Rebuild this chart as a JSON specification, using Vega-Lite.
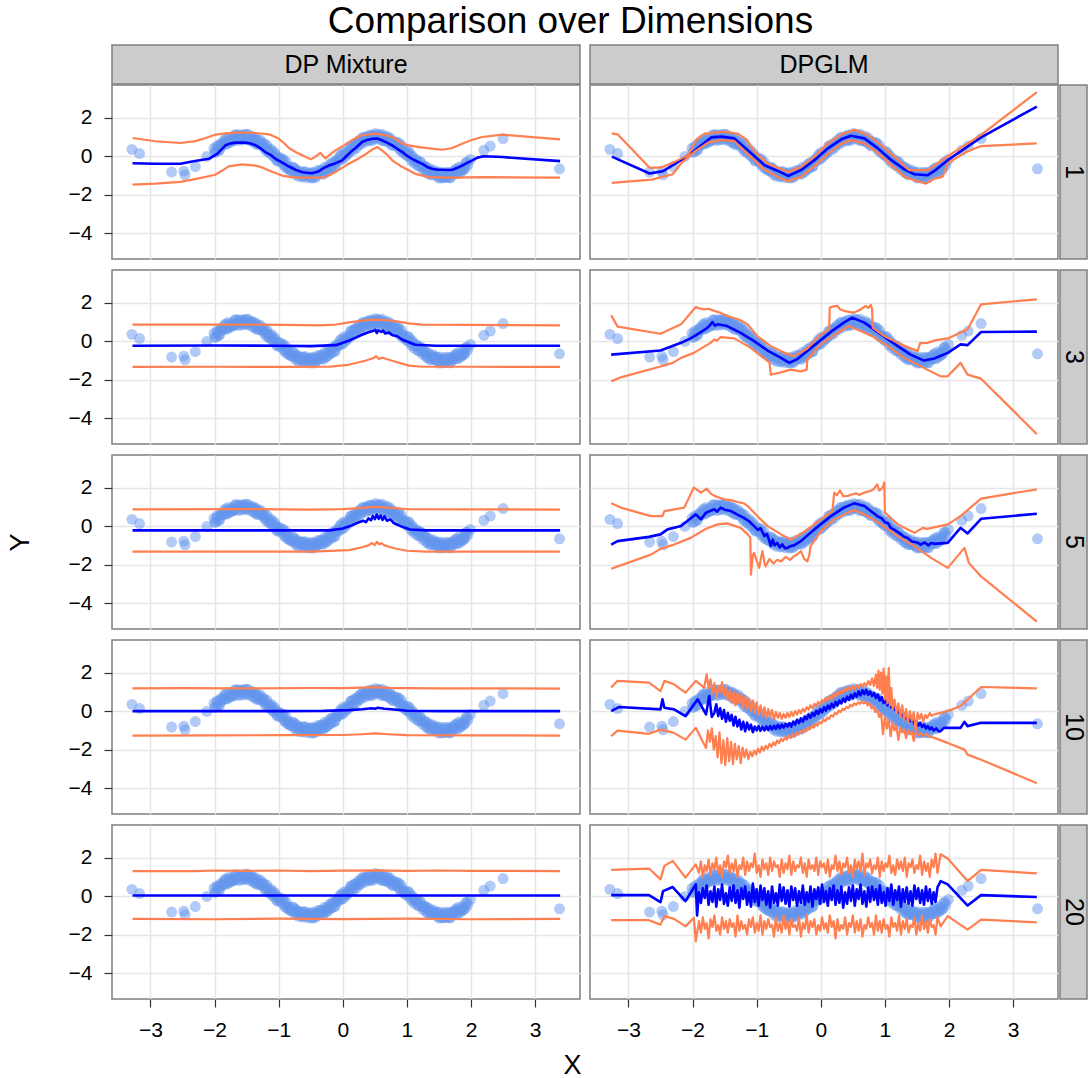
{
"$schema":"https://vega.github.io/schema/vega-lite/v6.json",
"background":"white",
"padding":{"left":5,"top":3,"right":0,"bottom":0},
"title":{"text":"Comparison over Dimensions","anchor":"middle","offset":3,"dx":24,"fontSize":37,"fontWeight":"normal","color":"#000000"},
"spacing":-2,
"vconcat":[
{"hconcat":[
{"width":468,"height":39,"data":{"values":[{"lab":"DP Mixture"}]},"view":{"fill":"#CCCCCC","stroke":"#7F7F7F","strokeWidth":1.5},"mark":{"type":"text","fontSize":25,"color":"#000000"},"encoding":{"text":{"field":"lab","type":"nominal"}}},
{"width":468,"height":39,"data":{"values":[{"lab":"DPGLM"}]},"view":{"fill":"#CCCCCC","stroke":"#7F7F7F","strokeWidth":1.5},"mark":{"type":"text","fontSize":25,"color":"#000000"},"encoding":{"text":{"field":"lab","type":"nominal"}}}
],"spacing":8},
{"vconcat":[
{"hconcat":[
{"width":468,"height":174,"resolve":{"axis":{"x":"independent","y":"independent"}},"layer":[
{"data":{"name":"pts"},"mark":{"type":"circle","size":120,"opacity":0.5,"color":"#6495ED"},"encoding":{"x":{"field":"x","type":"quantitative","scale":{"domain":[-3.6,3.7],"nice":false,"zero":false},"axis":{"values":[-3,-2,-1,0,1,2,3],"labels":false,"ticks":false,"title":null,"gridColor":"#E5E5E5","gridWidth":1.5}},"y":{"field":"y","type":"quantitative","scale":{"domain":[-5.34,3.69],"nice":false,"zero":false},"axis":{"values":[-4,-2,0,2],"title":null,"labelOverlap":false,"tickSize":8,"labelPadding":12,"gridColor":"#E5E5E5","gridWidth":1.5}}}},
{"data":{"name":"D1"},"transform":[{"filter":"isValid(datum.m)"}],"mark":{"type":"line","color":"#0000FF","strokeWidth":2.6,"strokeJoin":"round","clip":true},"encoding":{"x":{"field":"x","type":"quantitative","axis":{"orient":"top","values":[-3.5,-2.5,-1.5,-0.5,0.5,1.5,2.5,3.5],"labels":false,"ticks":false,"domain":false,"title":null,"gridColor":"#F3F3F3","gridWidth":1}},"y":{"field":"m","type":"quantitative","axis":{"orient":"right","values":[-5,-3,-1,1,3],"labels":false,"ticks":false,"domain":false,"title":null,"gridColor":"#F3F3F3","gridWidth":1}}}},
{"data":{"name":"D1"},"transform":[{"filter":"isValid(datum.lo)"}],"mark":{"type":"line","color":"#FF7F50","strokeWidth":2.2,"strokeJoin":"round","clip":true},"encoding":{"x":{"field":"x","type":"quantitative","axis":null},"y":{"field":"lo","type":"quantitative","axis":null}}},
{"data":{"name":"D1"},"transform":[{"filter":"isValid(datum.hi)"}],"mark":{"type":"line","color":"#FF7F50","strokeWidth":2.2,"strokeJoin":"round","clip":true},"encoding":{"x":{"field":"x","type":"quantitative","axis":null},"y":{"field":"hi","type":"quantitative","axis":null}}}
]},
{"hconcat":[
{"width":468,"height":174,"resolve":{"axis":{"x":"independent","y":"independent"}},"layer":[
{"data":{"name":"pts"},"mark":{"type":"circle","size":120,"opacity":0.5,"color":"#6495ED"},"encoding":{"x":{"field":"x","type":"quantitative","scale":{"domain":[-3.6,3.7],"nice":false,"zero":false},"axis":{"values":[-3,-2,-1,0,1,2,3],"labels":false,"ticks":false,"title":null,"gridColor":"#E5E5E5","gridWidth":1.5}},"y":{"field":"y","type":"quantitative","scale":{"domain":[-5.34,3.69],"nice":false,"zero":false},"axis":{"values":[-4,-2,0,2],"labels":false,"ticks":false,"title":null,"gridColor":"#E5E5E5","gridWidth":1.5}}}},
{"data":{"name":"G1"},"transform":[{"filter":"isValid(datum.m)"}],"mark":{"type":"line","color":"#0000FF","strokeWidth":2.6,"strokeJoin":"round","clip":true},"encoding":{"x":{"field":"x","type":"quantitative","axis":{"orient":"top","values":[-3.5,-2.5,-1.5,-0.5,0.5,1.5,2.5,3.5],"labels":false,"ticks":false,"domain":false,"title":null,"gridColor":"#F3F3F3","gridWidth":1}},"y":{"field":"m","type":"quantitative","axis":{"orient":"right","values":[-5,-3,-1,1,3],"labels":false,"ticks":false,"domain":false,"title":null,"gridColor":"#F3F3F3","gridWidth":1}}}},
{"data":{"name":"G1"},"transform":[{"filter":"isValid(datum.lo)"}],"mark":{"type":"line","color":"#FF7F50","strokeWidth":2.2,"strokeJoin":"round","clip":true},"encoding":{"x":{"field":"x","type":"quantitative","axis":null},"y":{"field":"lo","type":"quantitative","axis":null}}},
{"data":{"name":"G1"},"transform":[{"filter":"isValid(datum.hi)"}],"mark":{"type":"line","color":"#FF7F50","strokeWidth":2.2,"strokeJoin":"round","clip":true},"encoding":{"x":{"field":"x","type":"quantitative","axis":null},"y":{"field":"hi","type":"quantitative","axis":null}}}
]},
{"width":27,"height":174,"data":{"values":[{"lab":"1"}]},"view":{"fill":"#CCCCCC","stroke":"#7F7F7F","strokeWidth":1.5},"mark":{"type":"text","fontSize":25,"angle":90,"color":"#000000"},"encoding":{"text":{"field":"lab","type":"nominal"}}}
],"spacing":0}
],"spacing":8},
{"hconcat":[
{"width":468,"height":174,"resolve":{"axis":{"x":"independent","y":"independent"}},"layer":[
{"data":{"name":"pts"},"mark":{"type":"circle","size":120,"opacity":0.5,"color":"#6495ED"},"encoding":{"x":{"field":"x","type":"quantitative","scale":{"domain":[-3.6,3.7],"nice":false,"zero":false},"axis":{"values":[-3,-2,-1,0,1,2,3],"labels":false,"ticks":false,"title":null,"gridColor":"#E5E5E5","gridWidth":1.5}},"y":{"field":"y","type":"quantitative","scale":{"domain":[-5.34,3.69],"nice":false,"zero":false},"axis":{"values":[-4,-2,0,2],"title":null,"labelOverlap":false,"tickSize":8,"labelPadding":12,"gridColor":"#E5E5E5","gridWidth":1.5}}}},
{"data":{"name":"D3"},"transform":[{"filter":"isValid(datum.m)"}],"mark":{"type":"line","color":"#0000FF","strokeWidth":2.6,"strokeJoin":"round","clip":true},"encoding":{"x":{"field":"x","type":"quantitative","axis":{"orient":"top","values":[-3.5,-2.5,-1.5,-0.5,0.5,1.5,2.5,3.5],"labels":false,"ticks":false,"domain":false,"title":null,"gridColor":"#F3F3F3","gridWidth":1}},"y":{"field":"m","type":"quantitative","axis":{"orient":"right","values":[-5,-3,-1,1,3],"labels":false,"ticks":false,"domain":false,"title":null,"gridColor":"#F3F3F3","gridWidth":1}}}},
{"data":{"name":"D3"},"transform":[{"filter":"isValid(datum.lo)"}],"mark":{"type":"line","color":"#FF7F50","strokeWidth":2.2,"strokeJoin":"round","clip":true},"encoding":{"x":{"field":"x","type":"quantitative","axis":null},"y":{"field":"lo","type":"quantitative","axis":null}}},
{"data":{"name":"D3"},"transform":[{"filter":"isValid(datum.hi)"}],"mark":{"type":"line","color":"#FF7F50","strokeWidth":2.2,"strokeJoin":"round","clip":true},"encoding":{"x":{"field":"x","type":"quantitative","axis":null},"y":{"field":"hi","type":"quantitative","axis":null}}}
]},
{"hconcat":[
{"width":468,"height":174,"resolve":{"axis":{"x":"independent","y":"independent"}},"layer":[
{"data":{"name":"pts"},"mark":{"type":"circle","size":120,"opacity":0.5,"color":"#6495ED"},"encoding":{"x":{"field":"x","type":"quantitative","scale":{"domain":[-3.6,3.7],"nice":false,"zero":false},"axis":{"values":[-3,-2,-1,0,1,2,3],"labels":false,"ticks":false,"title":null,"gridColor":"#E5E5E5","gridWidth":1.5}},"y":{"field":"y","type":"quantitative","scale":{"domain":[-5.34,3.69],"nice":false,"zero":false},"axis":{"values":[-4,-2,0,2],"labels":false,"ticks":false,"title":null,"gridColor":"#E5E5E5","gridWidth":1.5}}}},
{"data":{"name":"G3"},"transform":[{"filter":"isValid(datum.m)"}],"mark":{"type":"line","color":"#0000FF","strokeWidth":2.6,"strokeJoin":"round","clip":true},"encoding":{"x":{"field":"x","type":"quantitative","axis":{"orient":"top","values":[-3.5,-2.5,-1.5,-0.5,0.5,1.5,2.5,3.5],"labels":false,"ticks":false,"domain":false,"title":null,"gridColor":"#F3F3F3","gridWidth":1}},"y":{"field":"m","type":"quantitative","axis":{"orient":"right","values":[-5,-3,-1,1,3],"labels":false,"ticks":false,"domain":false,"title":null,"gridColor":"#F3F3F3","gridWidth":1}}}},
{"data":{"name":"G3"},"transform":[{"filter":"isValid(datum.lo)"}],"mark":{"type":"line","color":"#FF7F50","strokeWidth":2.2,"strokeJoin":"round","clip":true},"encoding":{"x":{"field":"x","type":"quantitative","axis":null},"y":{"field":"lo","type":"quantitative","axis":null}}},
{"data":{"name":"G3"},"transform":[{"filter":"isValid(datum.hi)"}],"mark":{"type":"line","color":"#FF7F50","strokeWidth":2.2,"strokeJoin":"round","clip":true},"encoding":{"x":{"field":"x","type":"quantitative","axis":null},"y":{"field":"hi","type":"quantitative","axis":null}}}
]},
{"width":27,"height":174,"data":{"values":[{"lab":"3"}]},"view":{"fill":"#CCCCCC","stroke":"#7F7F7F","strokeWidth":1.5},"mark":{"type":"text","fontSize":25,"angle":90,"color":"#000000"},"encoding":{"text":{"field":"lab","type":"nominal"}}}
],"spacing":0}
],"spacing":8},
{"hconcat":[
{"width":468,"height":174,"resolve":{"axis":{"x":"independent","y":"independent"}},"layer":[
{"data":{"name":"pts"},"mark":{"type":"circle","size":120,"opacity":0.5,"color":"#6495ED"},"encoding":{"x":{"field":"x","type":"quantitative","scale":{"domain":[-3.6,3.7],"nice":false,"zero":false},"axis":{"values":[-3,-2,-1,0,1,2,3],"labels":false,"ticks":false,"title":null,"gridColor":"#E5E5E5","gridWidth":1.5}},"y":{"field":"y","type":"quantitative","scale":{"domain":[-5.34,3.69],"nice":false,"zero":false},"axis":{"values":[-4,-2,0,2],"title":"Y","titlePadding":34,"labelOverlap":false,"tickSize":8,"labelPadding":12,"gridColor":"#E5E5E5","gridWidth":1.5}}}},
{"data":{"name":"D5"},"transform":[{"filter":"isValid(datum.m)"}],"mark":{"type":"line","color":"#0000FF","strokeWidth":2.6,"strokeJoin":"round","clip":true},"encoding":{"x":{"field":"x","type":"quantitative","axis":{"orient":"top","values":[-3.5,-2.5,-1.5,-0.5,0.5,1.5,2.5,3.5],"labels":false,"ticks":false,"domain":false,"title":null,"gridColor":"#F3F3F3","gridWidth":1}},"y":{"field":"m","type":"quantitative","axis":{"orient":"right","values":[-5,-3,-1,1,3],"labels":false,"ticks":false,"domain":false,"title":null,"gridColor":"#F3F3F3","gridWidth":1}}}},
{"data":{"name":"D5"},"transform":[{"filter":"isValid(datum.lo)"}],"mark":{"type":"line","color":"#FF7F50","strokeWidth":2.2,"strokeJoin":"round","clip":true},"encoding":{"x":{"field":"x","type":"quantitative","axis":null},"y":{"field":"lo","type":"quantitative","axis":null}}},
{"data":{"name":"D5"},"transform":[{"filter":"isValid(datum.hi)"}],"mark":{"type":"line","color":"#FF7F50","strokeWidth":2.2,"strokeJoin":"round","clip":true},"encoding":{"x":{"field":"x","type":"quantitative","axis":null},"y":{"field":"hi","type":"quantitative","axis":null}}}
]},
{"hconcat":[
{"width":468,"height":174,"resolve":{"axis":{"x":"independent","y":"independent"}},"layer":[
{"data":{"name":"pts"},"mark":{"type":"circle","size":120,"opacity":0.5,"color":"#6495ED"},"encoding":{"x":{"field":"x","type":"quantitative","scale":{"domain":[-3.6,3.7],"nice":false,"zero":false},"axis":{"values":[-3,-2,-1,0,1,2,3],"labels":false,"ticks":false,"title":null,"gridColor":"#E5E5E5","gridWidth":1.5}},"y":{"field":"y","type":"quantitative","scale":{"domain":[-5.34,3.69],"nice":false,"zero":false},"axis":{"values":[-4,-2,0,2],"labels":false,"ticks":false,"title":null,"gridColor":"#E5E5E5","gridWidth":1.5}}}},
{"data":{"name":"G5"},"transform":[{"filter":"isValid(datum.m)"}],"mark":{"type":"line","color":"#0000FF","strokeWidth":2.6,"strokeJoin":"round","clip":true},"encoding":{"x":{"field":"x","type":"quantitative","axis":{"orient":"top","values":[-3.5,-2.5,-1.5,-0.5,0.5,1.5,2.5,3.5],"labels":false,"ticks":false,"domain":false,"title":null,"gridColor":"#F3F3F3","gridWidth":1}},"y":{"field":"m","type":"quantitative","axis":{"orient":"right","values":[-5,-3,-1,1,3],"labels":false,"ticks":false,"domain":false,"title":null,"gridColor":"#F3F3F3","gridWidth":1}}}},
{"data":{"name":"G5"},"transform":[{"filter":"isValid(datum.lo)"}],"mark":{"type":"line","color":"#FF7F50","strokeWidth":2.2,"strokeJoin":"round","clip":true},"encoding":{"x":{"field":"x","type":"quantitative","axis":null},"y":{"field":"lo","type":"quantitative","axis":null}}},
{"data":{"name":"G5"},"transform":[{"filter":"isValid(datum.hi)"}],"mark":{"type":"line","color":"#FF7F50","strokeWidth":2.2,"strokeJoin":"round","clip":true},"encoding":{"x":{"field":"x","type":"quantitative","axis":null},"y":{"field":"hi","type":"quantitative","axis":null}}}
]},
{"width":27,"height":174,"data":{"values":[{"lab":"5"}]},"view":{"fill":"#CCCCCC","stroke":"#7F7F7F","strokeWidth":1.5},"mark":{"type":"text","fontSize":25,"angle":90,"color":"#000000"},"encoding":{"text":{"field":"lab","type":"nominal"}}}
],"spacing":0}
],"spacing":8},
{"hconcat":[
{"width":468,"height":174,"resolve":{"axis":{"x":"independent","y":"independent"}},"layer":[
{"data":{"name":"pts"},"mark":{"type":"circle","size":120,"opacity":0.5,"color":"#6495ED"},"encoding":{"x":{"field":"x","type":"quantitative","scale":{"domain":[-3.6,3.7],"nice":false,"zero":false},"axis":{"values":[-3,-2,-1,0,1,2,3],"labels":false,"ticks":false,"title":null,"gridColor":"#E5E5E5","gridWidth":1.5}},"y":{"field":"y","type":"quantitative","scale":{"domain":[-5.34,3.69],"nice":false,"zero":false},"axis":{"values":[-4,-2,0,2],"title":null,"labelOverlap":false,"tickSize":8,"labelPadding":12,"gridColor":"#E5E5E5","gridWidth":1.5}}}},
{"data":{"name":"D10"},"transform":[{"filter":"isValid(datum.m)"}],"mark":{"type":"line","color":"#0000FF","strokeWidth":2.6,"strokeJoin":"round","clip":true},"encoding":{"x":{"field":"x","type":"quantitative","axis":{"orient":"top","values":[-3.5,-2.5,-1.5,-0.5,0.5,1.5,2.5,3.5],"labels":false,"ticks":false,"domain":false,"title":null,"gridColor":"#F3F3F3","gridWidth":1}},"y":{"field":"m","type":"quantitative","axis":{"orient":"right","values":[-5,-3,-1,1,3],"labels":false,"ticks":false,"domain":false,"title":null,"gridColor":"#F3F3F3","gridWidth":1}}}},
{"data":{"name":"D10"},"transform":[{"filter":"isValid(datum.lo)"}],"mark":{"type":"line","color":"#FF7F50","strokeWidth":2.2,"strokeJoin":"round","clip":true},"encoding":{"x":{"field":"x","type":"quantitative","axis":null},"y":{"field":"lo","type":"quantitative","axis":null}}},
{"data":{"name":"D10"},"transform":[{"filter":"isValid(datum.hi)"}],"mark":{"type":"line","color":"#FF7F50","strokeWidth":2.2,"strokeJoin":"round","clip":true},"encoding":{"x":{"field":"x","type":"quantitative","axis":null},"y":{"field":"hi","type":"quantitative","axis":null}}}
]},
{"hconcat":[
{"width":468,"height":174,"resolve":{"axis":{"x":"independent","y":"independent"}},"layer":[
{"data":{"name":"pts"},"mark":{"type":"circle","size":120,"opacity":0.5,"color":"#6495ED"},"encoding":{"x":{"field":"x","type":"quantitative","scale":{"domain":[-3.6,3.7],"nice":false,"zero":false},"axis":{"values":[-3,-2,-1,0,1,2,3],"labels":false,"ticks":false,"title":null,"gridColor":"#E5E5E5","gridWidth":1.5}},"y":{"field":"y","type":"quantitative","scale":{"domain":[-5.34,3.69],"nice":false,"zero":false},"axis":{"values":[-4,-2,0,2],"labels":false,"ticks":false,"title":null,"gridColor":"#E5E5E5","gridWidth":1.5}}}},
{"data":{"name":"G10"},"transform":[{"filter":"isValid(datum.m)"}],"mark":{"type":"line","color":"#0000FF","strokeWidth":2.6,"strokeJoin":"round","clip":true},"encoding":{"x":{"field":"x","type":"quantitative","axis":{"orient":"top","values":[-3.5,-2.5,-1.5,-0.5,0.5,1.5,2.5,3.5],"labels":false,"ticks":false,"domain":false,"title":null,"gridColor":"#F3F3F3","gridWidth":1}},"y":{"field":"m","type":"quantitative","axis":{"orient":"right","values":[-5,-3,-1,1,3],"labels":false,"ticks":false,"domain":false,"title":null,"gridColor":"#F3F3F3","gridWidth":1}}}},
{"data":{"name":"G10"},"transform":[{"filter":"isValid(datum.lo)"}],"mark":{"type":"line","color":"#FF7F50","strokeWidth":2.2,"strokeJoin":"round","clip":true},"encoding":{"x":{"field":"x","type":"quantitative","axis":null},"y":{"field":"lo","type":"quantitative","axis":null}}},
{"data":{"name":"G10"},"transform":[{"filter":"isValid(datum.hi)"}],"mark":{"type":"line","color":"#FF7F50","strokeWidth":2.2,"strokeJoin":"round","clip":true},"encoding":{"x":{"field":"x","type":"quantitative","axis":null},"y":{"field":"hi","type":"quantitative","axis":null}}}
]},
{"width":27,"height":174,"data":{"values":[{"lab":"10"}]},"view":{"fill":"#CCCCCC","stroke":"#7F7F7F","strokeWidth":1.5},"mark":{"type":"text","fontSize":25,"angle":90,"color":"#000000"},"encoding":{"text":{"field":"lab","type":"nominal"}}}
],"spacing":0}
],"spacing":8},
{"hconcat":[
{"width":468,"height":174,"resolve":{"axis":{"x":"independent","y":"independent"}},"layer":[
{"data":{"name":"pts"},"mark":{"type":"circle","size":120,"opacity":0.5,"color":"#6495ED"},"encoding":{"x":{"field":"x","type":"quantitative","scale":{"domain":[-3.6,3.7],"nice":false,"zero":false},"axis":{"values":[-3,-2,-1,0,1,2,3],"title":null,"labelFlush":false,"labelOverlap":false,"tickSize":8,"labelPadding":12,"gridColor":"#E5E5E5","gridWidth":1.5}},"y":{"field":"y","type":"quantitative","scale":{"domain":[-5.34,3.69],"nice":false,"zero":false},"axis":{"values":[-4,-2,0,2],"title":null,"labelOverlap":false,"tickSize":8,"labelPadding":12,"gridColor":"#E5E5E5","gridWidth":1.5}}}},
{"data":{"name":"D20"},"transform":[{"filter":"isValid(datum.m)"}],"mark":{"type":"line","color":"#0000FF","strokeWidth":2.6,"strokeJoin":"round","clip":true},"encoding":{"x":{"field":"x","type":"quantitative","axis":{"orient":"top","values":[-3.5,-2.5,-1.5,-0.5,0.5,1.5,2.5,3.5],"labels":false,"ticks":false,"domain":false,"title":null,"gridColor":"#F3F3F3","gridWidth":1}},"y":{"field":"m","type":"quantitative","axis":{"orient":"right","values":[-5,-3,-1,1,3],"labels":false,"ticks":false,"domain":false,"title":null,"gridColor":"#F3F3F3","gridWidth":1}}}},
{"data":{"name":"D20"},"transform":[{"filter":"isValid(datum.lo)"}],"mark":{"type":"line","color":"#FF7F50","strokeWidth":2.2,"strokeJoin":"round","clip":true},"encoding":{"x":{"field":"x","type":"quantitative","axis":null},"y":{"field":"lo","type":"quantitative","axis":null}}},
{"data":{"name":"D20"},"transform":[{"filter":"isValid(datum.hi)"}],"mark":{"type":"line","color":"#FF7F50","strokeWidth":2.2,"strokeJoin":"round","clip":true},"encoding":{"x":{"field":"x","type":"quantitative","axis":null},"y":{"field":"hi","type":"quantitative","axis":null}}}
]},
{"hconcat":[
{"width":468,"height":174,"resolve":{"axis":{"x":"independent","y":"independent"}},"layer":[
{"data":{"name":"pts"},"mark":{"type":"circle","size":120,"opacity":0.5,"color":"#6495ED"},"encoding":{"x":{"field":"x","type":"quantitative","scale":{"domain":[-3.6,3.7],"nice":false,"zero":false},"axis":{"values":[-3,-2,-1,0,1,2,3],"title":null,"labelFlush":false,"labelOverlap":false,"tickSize":8,"labelPadding":12,"gridColor":"#E5E5E5","gridWidth":1.5}},"y":{"field":"y","type":"quantitative","scale":{"domain":[-5.34,3.69],"nice":false,"zero":false},"axis":{"values":[-4,-2,0,2],"labels":false,"ticks":false,"title":null,"gridColor":"#E5E5E5","gridWidth":1.5}}}},
{"data":{"name":"G20"},"transform":[{"filter":"isValid(datum.m)"}],"mark":{"type":"line","color":"#0000FF","strokeWidth":2.6,"strokeJoin":"round","clip":true},"encoding":{"x":{"field":"x","type":"quantitative","axis":{"orient":"top","values":[-3.5,-2.5,-1.5,-0.5,0.5,1.5,2.5,3.5],"labels":false,"ticks":false,"domain":false,"title":null,"gridColor":"#F3F3F3","gridWidth":1}},"y":{"field":"m","type":"quantitative","axis":{"orient":"right","values":[-5,-3,-1,1,3],"labels":false,"ticks":false,"domain":false,"title":null,"gridColor":"#F3F3F3","gridWidth":1}}}},
{"data":{"name":"G20"},"transform":[{"filter":"isValid(datum.lo)"}],"mark":{"type":"line","color":"#FF7F50","strokeWidth":2.2,"strokeJoin":"round","clip":true},"encoding":{"x":{"field":"x","type":"quantitative","axis":null},"y":{"field":"lo","type":"quantitative","axis":null}}},
{"data":{"name":"G20"},"transform":[{"filter":"isValid(datum.hi)"}],"mark":{"type":"line","color":"#FF7F50","strokeWidth":2.2,"strokeJoin":"round","clip":true},"encoding":{"x":{"field":"x","type":"quantitative","axis":null},"y":{"field":"hi","type":"quantitative","axis":null}}}
]},
{"width":27,"height":174,"data":{"values":[{"lab":"20"}]},"view":{"fill":"#CCCCCC","stroke":"#7F7F7F","strokeWidth":1.5},"mark":{"type":"text","fontSize":25,"angle":90,"color":"#000000"},"encoding":{"text":{"field":"lab","type":"nominal"}}}
],"spacing":0}
],"spacing":8}
],"spacing":9},
{"width":947,"height":30,"data":{"values":[{"lab":"X"}]},"view":{"stroke":null,"fill":null},"mark":{"type":"text","fontSize":27,"dx":-13,"dy":10,"color":"#000000"},"encoding":{"text":{"field":"lab","type":"nominal"}}}
],
"datasets":{
"pts":[{"x":-3.29,"y":0.35},{"x":-3.17,"y":0.13},{"x":-2.67,"y":-0.83},{"x":-2.48,"y":-0.78},{"x":-2.46,"y":-0.97},{"x":-2.3,"y":-0.54},{"x":-2.12,"y":-0.02},{"x":1.99,"y":-0.17},{"x":2.2,"y":0.3},{"x":2.3,"y":0.52},{"x":2.5,"y":0.91},{"x":3.38,"y":-0.66},
{"x":-2.01,"y":0.4},{"x":-1.98,"y":0.22},{"x":-1.95,"y":0.47},{"x":-1.92,"y":0.32},{"x":-1.89,"y":0.68},{"x":-1.86,"y":0.59},{"x":-1.83,"y":0.89},{"x":-1.8,"y":0.63},{"x":-1.77,"y":0.85},{"x":-1.74,"y":0.78},
{"x":-1.71,"y":0.8},{"x":-1.68,"y":1.11},{"x":-1.65,"y":0.93},{"x":-1.62,"y":1.11},{"x":-1.59,"y":0.83},{"x":-1.56,"y":1.07},{"x":-1.53,"y":0.86},{"x":-1.5,"y":1.12},{"x":-1.47,"y":0.94},{"x":-1.44,"y":1.01},
{"x":-1.41,"y":1.01},{"x":-1.38,"y":0.69},{"x":-1.35,"y":0.87},{"x":-1.32,"y":0.63},{"x":-1.29,"y":0.84},{"x":-1.26,"y":0.55},{"x":-1.23,"y":0.63},{"x":-1.2,"y":0.28},{"x":-1.17,"y":0.4},{"x":-1.14,"y":0.16},
{"x":-1.11,"y":0.34},{"x":-1.08,"y":-0.02},{"x":-1.05,"y":0.06},{"x":-1.02,"y":-0.26},{"x":-0.99,"y":-0.07},{"x":-0.96,"y":-0.32},{"x":-0.93,"y":-0.16},{"x":-0.9,"y":-0.57},{"x":-0.87,"y":-0.49},{"x":-0.84,"y":-0.67},
{"x":-0.81,"y":-0.76},{"x":-0.78,"y":-0.56},{"x":-0.75,"y":-0.82},{"x":-0.72,"y":-0.71},{"x":-0.69,"y":-1.05},{"x":-0.66,"y":-0.85},{"x":-0.63,"y":-1.08},{"x":-0.6,"y":-0.83},{"x":-0.57,"y":-1.01},{"x":-0.54,"y":-0.91},
{"x":-0.51,"y":-0.88},{"x":-0.48,"y":-1.14},{"x":-0.45,"y":-0.9},{"x":-0.42,"y":-1.05},{"x":-0.39,"y":-0.75},{"x":-0.36,"y":-0.93},{"x":-0.33,"y":-0.73},{"x":-0.3,"y":-0.94},{"x":-0.27,"y":-0.68},{"x":-0.24,"y":-0.78},
{"x":-0.21,"y":-0.44},{"x":-0.18,"y":-0.63},{"x":-0.15,"y":-0.38},{"x":-0.12,"y":-0.53},{"x":-0.09,"y":-0.17},{"x":-0.06,"y":-0.24},{"x":-0.03,"y":0.09},{"x":0,"y":-0.14},{"x":0.03,"y":0.11},{"x":0.06,"y":0.09},
{"x":0.09,"y":0.16},{"x":0.12,"y":0.51},{"x":0.15,"y":0.4},{"x":0.18,"y":0.63},{"x":0.21,"y":0.42},{"x":0.24,"y":0.73},{"x":0.27,"y":0.59},{"x":0.3,"y":0.92},{"x":0.33,"y":0.82},{"x":0.36,"y":0.97},
{"x":0.39,"y":1.04},{"x":0.42,"y":0.8},{"x":0.45,"y":1.06},{"x":0.48,"y":0.89},{"x":0.51,"y":1.17},{"x":0.54,"y":0.95},{"x":0.57,"y":1.1},{"x":0.6,"y":0.81},{"x":0.63,"y":0.99},{"x":0.66,"y":0.8},
{"x":0.69,"y":1.03},{"x":0.72,"y":0.71},{"x":0.75,"y":0.83},{"x":0.78,"y":0.54},{"x":0.81,"y":0.75},{"x":0.84,"y":0.52},{"x":0.87,"y":0.69},{"x":0.9,"y":0.29},{"x":0.93,"y":0.36},{"x":0.96,"y":0.17},
{"x":0.99,"y":0.06},{"x":1.02,"y":0.24},{"x":1.05,"y":-0.05},{"x":1.08,"y":0.02},{"x":1.11,"y":-0.36},{"x":1.14,"y":-0.21},{"x":1.17,"y":-0.49},{"x":1.2,"y":-0.3},{"x":1.23,"y":-0.54},{"x":1.26,"y":-0.5},
{"x":1.29,"y":-0.54},{"x":1.32,"y":-0.88},{"x":1.35,"y":-0.71},{"x":1.38,"y":-0.94},{"x":1.41,"y":-0.72},{"x":1.44,"y":-0.97},{"x":1.47,"y":-0.85},{"x":1.5,"y":-1.14},{"x":1.53,"y":-0.95},{"x":1.56,"y":-1.12},
{"x":1.59,"y":-0.85},{"x":1.62,"y":-1.11},{"x":1.65,"y":-0.92},{"x":1.68,"y":-1.13},{"x":1.71,"y":-0.81},{"x":1.74,"y":-0.93},{"x":1.77,"y":-0.65},{"x":1.8,"y":-0.91},{"x":1.83,"y":-0.69},{"x":1.86,"y":-0.74},
{"x":1.89,"y":-0.69},{"x":1.92,"y":-0.34},{"x":1.95,"y":-0.46},
{"x":-1.995,"y":0.19},{"x":-1.965,"y":0.52},{"x":-1.935,"y":0.3},{"x":-1.905,"y":0.6},{"x":-1.875,"y":0.58},{"x":-1.845,"y":0.8},{"x":-1.815,"y":0.66},{"x":-1.785,"y":0.97},{"x":-1.755,"y":0.72},{"x":-1.725,"y":0.93},
{"x":-1.695,"y":0.83},{"x":-1.665,"y":1.1},{"x":-1.635,"y":0.82},{"x":-1.605,"y":1.05},{"x":-1.575,"y":0.97},{"x":-1.545,"y":1.12},{"x":-1.515,"y":0.91},{"x":-1.485,"y":1.14},{"x":-1.455,"y":0.81},{"x":-1.425,"y":0.95},
{"x":-1.395,"y":0.76},{"x":-1.365,"y":0.95},{"x":-1.335,"y":0.6},{"x":-1.305,"y":0.76},{"x":-1.275,"y":0.6},{"x":-1.245,"y":0.68},{"x":-1.215,"y":0.4},{"x":-1.185,"y":0.57},{"x":-1.155,"y":0.19},{"x":-1.125,"y":0.27},
{"x":-1.095,"y":0.04},{"x":-1.065,"y":0.19},{"x":-1.035,"y":-0.2},{"x":-1.005,"y":-0.07},{"x":-0.975,"y":-0.25},{"x":-0.945,"y":-0.18},{"x":-0.915,"y":-0.47},{"x":-0.885,"y":-0.3},{"x":-0.855,"y":-0.67},{"x":-0.825,"y":-0.58},
{"x":-0.795,"y":-0.78},{"x":-0.765,"y":-0.61},{"x":-0.735,"y":-0.96},{"x":-0.705,"y":-0.79},{"x":-0.675,"y":-0.93},{"x":-0.645,"y":-0.81},{"x":-0.615,"y":-1.04},{"x":-0.585,"y":-0.81},{"x":-0.555,"y":-1.12},{"x":-0.525,"y":-0.96},
{"x":-0.495,"y":-1.1},{"x":-0.465,"y":-0.84},{"x":-0.435,"y":-1.12},{"x":-0.405,"y":-0.88},{"x":-0.375,"y":-0.93},{"x":-0.345,"y":-0.74},{"x":-0.315,"y":-0.89},{"x":-0.285,"y":-0.58},{"x":-0.255,"y":-0.82},{"x":-0.225,"y":-0.58},
{"x":-0.195,"y":-0.65},{"x":-0.165,"y":-0.33},{"x":-0.135,"y":-0.55},{"x":-0.105,"y":-0.25},{"x":-0.075,"y":-0.25},{"x":-0.045,"y":-0.01},{"x":-0.015,"y":-0.13},{"x":0.015,"y":0.22},{"x":0.045,"y":0.0},{"x":0.075,"y":0.26},
{"x":0.105,"y":0.21},{"x":0.135,"y":0.53},{"x":0.165,"y":0.31},{"x":0.195,"y":0.61},{"x":0.225,"y":0.59},{"x":0.255,"y":0.81},{"x":0.285,"y":0.67},{"x":0.315,"y":0.98},{"x":0.345,"y":0.73},{"x":0.375,"y":0.94},
{"x":0.405,"y":0.84},{"x":0.435,"y":1.1},{"x":0.465,"y":0.82},{"x":0.495,"y":1.06},{"x":0.525,"y":0.97},{"x":0.555,"y":1.11},{"x":0.585,"y":0.9},{"x":0.615,"y":1.13},{"x":0.645,"y":0.8},{"x":0.675,"y":0.94},
{"x":0.705,"y":0.75},{"x":0.735,"y":0.94},{"x":0.765,"y":0.59},{"x":0.795,"y":0.75},{"x":0.825,"y":0.59},{"x":0.855,"y":0.67},{"x":0.885,"y":0.39},{"x":0.915,"y":0.56},{"x":0.945,"y":0.17},{"x":0.975,"y":0.25},
{"x":1.005,"y":0.03},{"x":1.035,"y":0.18},{"x":1.065,"y":-0.21},{"x":1.095,"y":-0.08},{"x":1.125,"y":-0.26},{"x":1.155,"y":-0.2},{"x":1.185,"y":-0.48},{"x":1.215,"y":-0.31},{"x":1.245,"y":-0.69},{"x":1.275,"y":-0.59},
{"x":1.305,"y":-0.8},{"x":1.335,"y":-0.62},{"x":1.365,"y":-0.97},{"x":1.395,"y":-0.8},{"x":1.425,"y":-0.94},{"x":1.455,"y":-0.82},{"x":1.485,"y":-1.05},{"x":1.515,"y":-0.82},{"x":1.545,"y":-1.13},{"x":1.575,"y":-0.96},
{"x":1.605,"y":-1.09},{"x":1.635,"y":-0.84},{"x":1.665,"y":-1.12},{"x":1.695,"y":-0.87},{"x":1.725,"y":-0.92},{"x":1.755,"y":-0.73},{"x":1.785,"y":-0.88},{"x":1.815,"y":-0.57},{"x":1.845,"y":-0.81},{"x":1.875,"y":-0.57},
{"x":1.905,"y":-0.64},{"x":1.935,"y":-0.32}],
"D1":[{"x":-3.28,"m":-0.37},{"x":-2.92,"m":-0.4},{"x":-2.53,"m":-0.4},{"x":-2.35,"m":-0.28},{"x":-2.09,"m":-0.14},{"x":-1.96,"m":0.12},{"x":-1.83,"m":0.56},{"x":-1.75,"m":0.66},{"x":-1.67,"m":0.7},{"x":-1.52,"m":0.7},{"x":-1.44,"m":0.65},{"x":-1.36,"m":0.56},{"x":-1.28,"m":0.4},{"x":-1.21,"m":0.21},{"x":-1.12,"m":0.05},{"x":-1.05,"m":-0.14},{"x":-0.95,"m":-0.33},{"x":-0.84,"m":-0.54},{"x":-0.73,"m":-0.72},{"x":-0.63,"m":-0.84},{"x":-0.48,"m":-0.89},{"x":-0.37,"m":-0.78},{"x":-0.3,"m":-0.62},{"x":-0.22,"m":-0.49},{"x":-0.12,"m":-0.38},{"x":-0.01,"m":-0.22},{"x":0.05,"m":-0.02},{"x":0.12,"m":0.21},{"x":0.2,"m":0.42},{"x":0.3,"m":0.73},{"x":0.38,"m":0.84},{"x":0.46,"m":0.9},{"x":0.54,"m":0.91},{"x":0.61,"m":0.82},{"x":0.69,"m":0.7},{"x":0.77,"m":0.56},{"x":0.85,"m":0.38},{"x":0.93,"m":0.21},{"x":1.0,"m":0.02},{"x":1.08,"m":-0.14},{"x":1.16,"m":-0.28},{"x":1.24,"m":-0.4},{"x":1.31,"m":-0.55},{"x":1.39,"m":-0.66},{"x":1.47,"m":-0.7},{"x":1.55,"m":-0.71},{"x":1.63,"m":-0.72},{"x":1.71,"m":-0.71},{"x":1.78,"m":-0.62},{"x":1.86,"m":-0.49},{"x":1.94,"m":-0.35},{"x":2.02,"m":-0.22},{"x":2.1,"m":-0.08},{"x":2.2,"m":-0.01},{"x":2.49,"m":-0.05},{"x":3.39,"m":-0.26},
{"x":-3.28,"hi":0.94},{"x":-2.92,"hi":0.77},{"x":-2.53,"hi":0.68},{"x":-2.3,"hi":0.78},{"x":-2.15,"hi":0.93},{"x":-1.99,"hi":1.11},{"x":-1.83,"hi":1.18},{"x":-1.67,"hi":1.22},{"x":-1.52,"hi":1.22},{"x":-1.36,"hi":1.2},{"x":-1.15,"hi":1.13},{"x":-1.0,"hi":0.91},{"x":-0.92,"hi":0.68},{"x":-0.84,"hi":0.42},{"x":-0.73,"hi":0.2},{"x":-0.63,"hi":0.04},{"x":-0.5,"hi":-0.17},{"x":-0.43,"hi":-0.04},{"x":-0.35,"hi":0.17},{"x":-0.27,"hi":-0.12},{"x":-0.2,"hi":0.08},{"x":-0.11,"hi":0.31},{"x":0.0,"hi":0.52},{"x":0.1,"hi":0.74},{"x":0.25,"hi":1.03},{"x":0.38,"hi":1.12},{"x":0.51,"hi":1.17},{"x":0.64,"hi":1.1},{"x":0.77,"hi":0.99},{"x":0.85,"hi":0.82},{"x":0.93,"hi":0.65},{"x":1.05,"hi":0.54},{"x":1.19,"hi":0.47},{"x":1.35,"hi":0.4},{"x":1.55,"hi":0.33},{"x":1.71,"hi":0.42},{"x":1.86,"hi":0.64},{"x":2.0,"hi":0.82},{"x":2.17,"hi":0.99},{"x":2.49,"hi":1.11},{"x":3.39,"hi":0.87},
{"x":-3.28,"lo":-1.48},{"x":-2.92,"lo":-1.43},{"x":-2.53,"lo":-1.34},{"x":-2.19,"lo":-1.12},{"x":-1.99,"lo":-0.97},{"x":-1.88,"lo":-0.75},{"x":-1.78,"lo":-0.53},{"x":-1.57,"lo":-0.43},{"x":-1.36,"lo":-0.49},{"x":-1.25,"lo":-0.6},{"x":-1.15,"lo":-0.75},{"x":-0.95,"lo":-1.01},{"x":-0.8,"lo":-1.09},{"x":-0.63,"lo":-1.12},{"x":-0.32,"lo":-1.12},{"x":-0.2,"lo":-0.98},{"x":-0.11,"lo":-0.82},{"x":0.07,"lo":-0.44},{"x":0.25,"lo":-0.12},{"x":0.38,"lo":0.15},{"x":0.46,"lo":0.34},{"x":0.54,"lo":0.47},{"x":0.61,"lo":0.3},{"x":0.7,"lo":0.05},{"x":0.77,"lo":-0.22},{"x":0.93,"lo":-0.57},{"x":1.13,"lo":-0.92},{"x":1.34,"lo":-1.09},{"x":1.71,"lo":-1.12},{"x":2.23,"lo":-1.09},{"x":3.39,"lo":-1.12}],
"D3":[{"x":-3.28,"hi":0.85},{"x":-1.67,"hi":0.86},{"x":-0.9,"hi":0.84},{"x":-0.37,"hi":0.82},{"x":-0.11,"hi":0.86},{"x":0.15,"hi":1.0},{"x":0.35,"hi":1.08},{"x":0.51,"hi":1.11},{"x":0.7,"hi":1.08},{"x":0.82,"hi":1.04},{"x":1.03,"hi":0.92},{"x":1.24,"hi":0.86},{"x":2.0,"hi":0.84},{"x":3.39,"hi":0.82},
{"x":-3.28,"m":-0.24},{"x":-2.0,"m":-0.23},{"x":-1.0,"m":-0.24},{"x":-0.5,"m":-0.26},{"x":-0.11,"m":-0.21},{"x":0.09,"m":0.02},{"x":0.2,"m":0.18},{"x":0.3,"m":0.33},{"x":0.4,"m":0.46},{"x":0.47,"m":0.52},{"x":0.51,"m":0.58},{"x":0.53,"m":0.42},{"x":0.55,"m":0.56},{"x":0.6,"m":0.48},{"x":0.63,"m":0.54},{"x":0.66,"m":0.4},{"x":0.72,"m":0.44},{"x":0.78,"m":0.3},{"x":0.85,"m":0.25},{"x":0.93,"m":0.07},{"x":1.13,"m":-0.19},{"x":1.45,"m":-0.24},{"x":3.39,"m":-0.24},
{"x":-3.28,"lo":-1.34},{"x":-2.0,"lo":-1.33},{"x":-1.0,"lo":-1.34},{"x":-0.2,"lo":-1.32},{"x":0.09,"lo":-1.23},{"x":0.35,"lo":-1.02},{"x":0.48,"lo":-0.88},{"x":0.52,"lo":-0.78},{"x":0.56,"lo":-0.92},{"x":0.62,"lo":-0.86},{"x":0.77,"lo":-1.02},{"x":1.03,"lo":-1.27},{"x":1.24,"lo":-1.33},{"x":2.0,"lo":-1.33},{"x":3.39,"lo":-1.34}],
"D5":[{"x":-3.28,"hi":0.87},{"x":-1.5,"hi":0.88},{"x":-0.5,"hi":0.86},{"x":0.0,"hi":0.88},{"x":0.3,"hi":0.95},{"x":0.5,"hi":1.0},{"x":0.7,"hi":0.96},{"x":1.0,"hi":0.88},{"x":2.0,"hi":0.87},{"x":3.39,"hi":0.86},
{"x":-3.28,"m":-0.22},{"x":-1.0,"m":-0.22},{"x":-0.2,"m":-0.22},{"x":0.0,"m":-0.12},{"x":0.15,"m":0.05},{"x":0.25,"m":0.2},{"x":0.32,"m":0.28},{"x":0.36,"m":0.2},{"x":0.4,"m":0.4},{"x":0.44,"m":0.3},{"x":0.47,"m":0.52},{"x":0.5,"m":0.36},{"x":0.53,"m":0.6},{"x":0.56,"m":0.38},{"x":0.59,"m":0.55},{"x":0.62,"m":0.32},{"x":0.65,"m":0.5},{"x":0.69,"m":0.28},{"x":0.74,"m":0.35},{"x":0.8,"m":0.15},{"x":0.9,"m":0.0},{"x":1.05,"m":-0.18},{"x":1.3,"m":-0.22},{"x":3.39,"m":-0.22},
{"x":-3.28,"lo":-1.32},{"x":-0.5,"lo":-1.32},{"x":0.1,"lo":-1.25},{"x":0.3,"lo":-1.1},{"x":0.4,"lo":-1.0},{"x":0.45,"lo":-0.88},{"x":0.5,"lo":-0.98},{"x":0.53,"lo":-0.82},{"x":0.57,"lo":-0.95},{"x":0.6,"lo":-0.88},{"x":0.65,"lo":-1.0},{"x":0.8,"lo":-1.15},{"x":1.0,"lo":-1.28},{"x":1.3,"lo":-1.32},{"x":3.39,"lo":-1.32}],
"D10":[{"x":-3.28,"hi":1.18},{"x":-2.5,"hi":1.19},{"x":-1.5,"hi":1.18},{"x":-0.5,"hi":1.2},{"x":0.0,"hi":1.19},{"x":0.3,"hi":1.22},{"x":0.5,"hi":1.24},{"x":0.7,"hi":1.21},{"x":1.0,"hi":1.19},{"x":1.5,"hi":1.18},{"x":2.5,"hi":1.18},{"x":3.39,"hi":1.17},
{"x":-3.28,"m":0.0},{"x":-2.0,"m":0.0},{"x":-1.0,"m":0.0},{"x":-0.3,"m":0.01},{"x":0.1,"m":0.05},{"x":0.3,"m":0.1},{"x":0.45,"m":0.15},{"x":0.5,"m":0.12},{"x":0.55,"m":0.17},{"x":0.65,"m":0.12},{"x":0.8,"m":0.08},{"x":1.0,"m":0.02},{"x":1.5,"m":0.0},{"x":3.39,"m":0.0},
{"x":-3.28,"lo":-1.27},{"x":-2.0,"lo":-1.26},{"x":-1.0,"lo":-1.25},{"x":0.0,"lo":-1.24},{"x":0.3,"lo":-1.2},{"x":0.5,"lo":-1.16},{"x":0.7,"lo":-1.2},{"x":1.0,"lo":-1.25},{"x":2.0,"lo":-1.26},{"x":3.39,"lo":-1.27}],
"D20":[{"x":-3.28,"hi":1.3},{"x":-2.3,"hi":1.3},{"x":-2.0,"hi":1.33},{"x":-1.5,"hi":1.31},{"x":-1.0,"hi":1.33},{"x":-0.5,"hi":1.3},{"x":0.0,"hi":1.32},{"x":0.5,"hi":1.34},{"x":1.0,"hi":1.31},{"x":1.5,"hi":1.33},{"x":2.0,"hi":1.31},{"x":3.39,"hi":1.3},
{"x":-3.28,"m":0.03},{"x":0.0,"m":0.03},{"x":3.39,"m":0.03},
{"x":-3.28,"lo":-1.18},{"x":-2.0,"lo":-1.2},{"x":-1.0,"lo":-1.17},{"x":0.0,"lo":-1.19},{"x":1.0,"lo":-1.17},{"x":2.0,"lo":-1.2},{"x":3.39,"lo":-1.18}],
"G1":[{"x":-3.26,"m":-0.03},{"x":-2.67,"m":-0.9},{"x":-2.46,"m":-0.78},{"x":-2.18,"m":-0.21},{"x":-1.97,"m":0.28},{"x":-1.71,"m":0.97},{"x":-1.55,"m":1.01},{"x":-1.35,"m":0.92},{"x":-1.14,"m":0.31},{"x":-0.88,"m":-0.47},{"x":-0.67,"m":-0.77},{"x":-0.51,"m":-1.03},{"x":-0.31,"m":-0.73},{"x":-0.1,"m":-0.21},{"x":0.11,"m":0.4},{"x":0.32,"m":0.87},{"x":0.47,"m":1.06},{"x":0.68,"m":0.92},{"x":0.89,"m":0.4},{"x":1.1,"m":-0.21},{"x":1.31,"m":-0.7},{"x":1.46,"m":-0.94},{"x":1.67,"m":-0.99},{"x":1.77,"m":-0.77},{"x":1.98,"m":-0.21},{"x":2.5,"m":0.97},{"x":3.37,"m":2.57},
{"x":-3.26,"hi":1.18},{"x":-3.17,"hi":1.13},{"x":-2.67,"hi":-0.61},{"x":-2.49,"hi":-0.59},{"x":-2.28,"hi":-0.3},{"x":-2.07,"hi":0.05},{"x":-1.94,"hi":0.87},{"x":-1.81,"hi":1.15},{"x":-1.5,"hi":1.27},{"x":-1.29,"hi":1.15},{"x":-1.16,"hi":0.87},{"x":-1.03,"hi":0.23},{"x":-0.83,"hi":-0.38},{"x":-0.51,"hi":-0.82},{"x":-0.31,"hi":-0.56},{"x":-0.1,"hi":-0.03},{"x":0.11,"hi":0.66},{"x":0.32,"hi":1.13},{"x":0.53,"hi":1.36},{"x":0.73,"hi":1.1},{"x":0.94,"hi":0.57},{"x":1.15,"hi":-0.03},{"x":1.38,"hi":-0.73},{"x":1.67,"hi":-0.73},{"x":1.98,"hi":0.0},{"x":2.5,"hi":1.1},{"x":3.37,"hi":3.32},
{"x":-3.26,"lo":-1.39},{"x":-2.64,"lo":-1.22},{"x":-2.31,"lo":-0.94},{"x":-2.18,"lo":-0.38},{"x":-1.97,"lo":0.23},{"x":-1.76,"lo":0.7},{"x":-1.55,"lo":0.83},{"x":-1.35,"lo":0.78},{"x":-1.14,"lo":0.1},{"x":-0.88,"lo":-0.7},{"x":-0.67,"lo":-1.08},{"x":-0.51,"lo":-1.3},{"x":-0.31,"lo":-1.08},{"x":-0.1,"lo":-0.52},{"x":0.11,"lo":0.1},{"x":0.32,"lo":0.63},{"x":0.47,"lo":0.83},{"x":0.68,"lo":0.66},{"x":0.89,"lo":0.17},{"x":1.1,"lo":-0.47},{"x":1.31,"lo":-1.08},{"x":1.46,"lo":-1.25},{"x":1.64,"lo":-1.43},{"x":1.77,"lo":-1.17},{"x":1.9,"lo":-1.08},{"x":1.98,"lo":-0.38},{"x":2.24,"lo":0.17},{"x":2.5,"lo":0.52},{"x":3.37,"lo":0.66}],
"G3":[{"x":-3.27,"m":-0.7},{"x":-2.5,"m":-0.49},{"x":-2.18,"m":-0.09},{"x":-2.03,"m":0.14},{"x":-1.87,"m":0.47},{"x":-1.8,"m":0.62},{"x":-1.74,"m":0.78},{"x":-1.69,"m":0.99},{"x":-1.65,"m":0.8},{"x":-1.61,"m":0.87},{"x":-1.46,"m":0.78},{"x":-1.25,"m":0.43},{"x":-1.04,"m":0.0},{"x":-0.83,"m":-0.49},{"x":-0.62,"m":-0.87},{"x":-0.49,"m":-1.13},{"x":-0.36,"m":-0.92},{"x":-0.1,"m":-0.21},{"x":0.16,"m":0.49},{"x":0.36,"m":0.96},{"x":0.49,"m":1.22},{"x":0.68,"m":0.96},{"x":0.94,"m":0.35},{"x":1.2,"m":-0.26},{"x":1.4,"m":-0.7},{"x":1.61,"m":-1.01},{"x":1.77,"m":-0.9},{"x":1.98,"m":-0.61},{"x":2.18,"m":-0.17},{"x":2.29,"m":-0.21},{"x":2.5,"m":0.47},{"x":3.37,"m":0.49},
{"x":-3.27,"hi":1.34},{"x":-3.17,"hi":0.75},{"x":-2.5,"hi":0.38},{"x":-2.18,"hi":0.87},{"x":-1.95,"hi":1.77},{"x":-1.9,"hi":1.7},{"x":-1.82,"hi":1.65},{"x":-1.75,"hi":1.68},{"x":-1.66,"hi":1.57},{"x":-1.55,"hi":1.45},{"x":-1.46,"hi":1.3},{"x":-1.35,"hi":1.2},{"x":-1.25,"hi":1.08},{"x":-1.14,"hi":0.87},{"x":-0.99,"hi":0.26},{"x":-0.78,"hi":-0.26},{"x":-0.57,"hi":-0.61},{"x":-0.42,"hi":-0.78},{"x":-0.21,"hi":-0.38},{"x":0.0,"hi":0.35},{"x":0.13,"hi":0.61},{"x":0.14,"hi":1.74},{"x":0.2,"hi":1.8},{"x":0.26,"hi":1.83},{"x":0.3,"hi":1.65},{"x":0.36,"hi":1.57},{"x":0.44,"hi":1.52},{"x":0.52,"hi":1.48},{"x":0.6,"hi":1.6},{"x":0.7,"hi":1.83},{"x":0.74,"hi":1.72},{"x":0.78,"hi":1.88},{"x":0.8,"hi":1.7},{"x":0.81,"hi":0.7},{"x":0.99,"hi":0.26},{"x":1.25,"hi":-0.17},{"x":1.51,"hi":-0.52},{"x":1.55,"hi":-0.1},{"x":1.66,"hi":-0.09},{"x":1.8,"hi":0.05},{"x":1.98,"hi":0.14},{"x":2.29,"hi":0.61},{"x":2.5,"hi":1.91},{"x":3.37,"hi":2.17},
{"x":-3.27,"lo":-2.09},{"x":-3.12,"lo":-1.88},{"x":-2.5,"lo":-1.32},{"x":-2.31,"lo":-1.13},{"x":-2.18,"lo":-0.87},{"x":-1.98,"lo":-0.61},{"x":-1.85,"lo":-0.35},{"x":-1.72,"lo":-0.09},{"x":-1.66,"lo":0.09},{"x":-1.62,"lo":0.02},{"x":-1.56,"lo":0.21},{"x":-1.35,"lo":0.14},{"x":-1.09,"lo":-0.35},{"x":-0.83,"lo":-1.04},{"x":-0.8,"lo":-1.1},{"x":-0.78,"lo":-1.74},{"x":-0.7,"lo":-1.68},{"x":-0.62,"lo":-1.62},{"x":-0.47,"lo":-1.48},{"x":-0.31,"lo":-1.57},{"x":-0.22,"lo":-1.48},{"x":-0.21,"lo":-0.96},{"x":0.0,"lo":-0.17},{"x":0.26,"lo":0.43},{"x":0.44,"lo":0.78},{"x":0.62,"lo":0.52},{"x":0.83,"lo":0.21},{"x":1.09,"lo":-0.35},{"x":1.3,"lo":-0.87},{"x":1.46,"lo":-1.13},{"x":1.66,"lo":-1.48},{"x":1.87,"lo":-1.83},{"x":1.98,"lo":-1.83},{"x":2.18,"lo":-1.13},{"x":2.29,"lo":-1.74},{"x":2.5,"lo":-1.95},{"x":3.37,"lo":-4.83}],
"G5":[{"x":-3.27,"m":-0.96},{"x":-3.17,"m":-0.78},{"x":-2.68,"m":-0.56},{"x":-2.5,"m":-0.43},{"x":-2.39,"m":-0.17},{"x":-2.18,"m":0.0},{"x":-1.95,"m":0.61},{"x":-1.87,"m":0.35},{"x":-1.79,"m":0.7},{"x":-1.72,"m":0.8},{"x":-1.66,"m":0.87},{"x":-1.62,"m":0.75},{"x":-1.56,"m":0.96},{"x":-1.5,"m":0.85},{"x":-1.4,"m":0.78},{"x":-1.3,"m":0.6},{"x":-1.2,"m":0.43},{"x":-1.12,"m":0.25},{"x":-1.04,"m":0.0},{"x":-0.98,"m":-0.2},{"x":-0.94,"m":-0.1},{"x":-0.88,"m":-0.52},{"x":-0.84,"m":-0.4},{"x":-0.8,"m":-0.8},{"x":-0.78,"m":-1.04},{"x":-0.75,"m":-0.7},{"x":-0.72,"m":-1.0},{"x":-0.68,"m":-0.87},{"x":-0.64,"m":-1.1},{"x":-0.6,"m":-0.95},{"x":-0.56,"m":-1.15},{"x":-0.52,"m":-1.13},{"x":-0.48,"m":-1.05},{"x":-0.42,"m":-1.0},{"x":-0.31,"m":-0.78},{"x":-0.1,"m":-0.17},{"x":0.16,"m":0.52},{"x":0.36,"m":0.96},{"x":0.52,"m":1.18},{"x":0.68,"m":1.04},{"x":0.88,"m":0.52},{"x":0.95,"m":0.4},{"x":1.0,"m":0.2},{"x":1.05,"m":0.15},{"x":1.09,"m":-0.09},{"x":1.15,"m":-0.2},{"x":1.22,"m":-0.35},{"x":1.3,"m":-0.55},{"x":1.35,"m":-0.61},{"x":1.42,"m":-0.8},{"x":1.5,"m":-0.85},{"x":1.56,"m":-0.96},{"x":1.62,"m":-0.85},{"x":1.68,"m":-1.0},{"x":1.72,"m":-0.88},{"x":1.77,"m":-0.92},{"x":1.98,"m":-0.87},{"x":2.18,"m":-0.09},{"x":2.29,"m":-0.38},{"x":2.5,"m":0.38},{"x":3.37,"m":0.64},
{"x":-3.27,"hi":1.18},{"x":-3.12,"hi":0.96},{"x":-2.65,"hi":0.52},{"x":-2.47,"hi":0.52},{"x":-2.44,"hi":0.78},{"x":-2.13,"hi":0.96},{"x":-1.98,"hi":2.0},{"x":-1.87,"hi":1.74},{"x":-1.78,"hi":1.95},{"x":-1.72,"hi":1.7},{"x":-1.66,"hi":1.57},{"x":-1.6,"hi":1.5},{"x":-1.51,"hi":1.39},{"x":-1.4,"hi":1.35},{"x":-1.3,"hi":1.25},{"x":-1.2,"hi":1.18},{"x":-1.14,"hi":1.04},{"x":-0.99,"hi":0.52},{"x":-0.83,"hi":0.0},{"x":-0.62,"hi":-0.43},{"x":-0.47,"hi":-0.7},{"x":-0.26,"hi":-0.31},{"x":0.0,"hi":0.35},{"x":0.18,"hi":0.78},{"x":0.21,"hi":1.74},{"x":0.25,"hi":1.6},{"x":0.3,"hi":1.85},{"x":0.35,"hi":1.55},{"x":0.42,"hi":1.57},{"x":0.5,"hi":1.65},{"x":0.55,"hi":1.7},{"x":0.6,"hi":1.62},{"x":0.68,"hi":1.74},{"x":0.75,"hi":1.8},{"x":0.82,"hi":1.9},{"x":0.88,"hi":2.17},{"x":0.91,"hi":1.85},{"x":0.94,"hi":1.91},{"x":0.97,"hi":2.05},{"x":0.99,"hi":2.26},{"x":1.0,"hi":0.7},{"x":1.2,"hi":0.09},{"x":1.46,"hi":-0.35},{"x":1.59,"hi":-0.09},{"x":1.66,"hi":-0.14},{"x":1.98,"hi":0.09},{"x":2.18,"hi":0.52},{"x":2.5,"hi":1.43},{"x":3.37,"hi":1.91},
{"x":-3.27,"lo":-2.21},{"x":-2.65,"lo":-1.48},{"x":-2.5,"lo":-1.18},{"x":-2.29,"lo":-0.96},{"x":-2.03,"lo":-0.61},{"x":-1.79,"lo":-0.14},{"x":-1.61,"lo":0.09},{"x":-1.46,"lo":0.14},{"x":-1.25,"lo":-0.09},{"x":-1.14,"lo":-0.43},{"x":-1.1,"lo":-0.6},{"x":-1.09,"lo":-2.52},{"x":-1.06,"lo":-1.5},{"x":-1.04,"lo":-1.39},{"x":-1.0,"lo":-1.8},{"x":-0.96,"lo":-2.17},{"x":-0.93,"lo":-1.6},{"x":-0.91,"lo":-1.3},{"x":-0.88,"lo":-1.9},{"x":-0.86,"lo":-2.09},{"x":-0.8,"lo":-1.7},{"x":-0.74,"lo":-1.95},{"x":-0.68,"lo":-1.75},{"x":-0.62,"lo":-1.83},{"x":-0.55,"lo":-1.6},{"x":-0.48,"lo":-1.75},{"x":-0.42,"lo":-1.57},{"x":-0.36,"lo":-1.45},{"x":-0.31,"lo":-1.3},{"x":-0.26,"lo":-1.7},{"x":-0.21,"lo":-1.83},{"x":-0.18,"lo":-1.5},{"x":-0.16,"lo":-1.04},{"x":0.0,"lo":-0.26},{"x":0.21,"lo":0.35},{"x":0.42,"lo":0.7},{"x":0.52,"lo":0.83},{"x":0.73,"lo":0.52},{"x":0.94,"lo":0.09},{"x":1.2,"lo":-0.52},{"x":1.46,"lo":-1.04},{"x":1.72,"lo":-1.65},{"x":1.98,"lo":-2.17},{"x":2.24,"lo":-1.13},{"x":2.31,"lo":-1.91},{"x":2.5,"lo":-2.61},{"x":3.37,"lo":-4.96}],
"G10":[{"x":-3.27,"m":0.0},{"x":-3.15,"m":0.21},{"x":-2.5,"m":0.09},{"x":-2.47,"m":0.61},{"x":-2.44,"m":0.17},{"x":-2.29,"m":0.09},{"x":-2.11,"m":-0.26},{"x":-1.92,"m":0.61},{"x":-1.79,"m":-0.17},{"x":-1.74,"m":0.78},{"x":-1.7,"m":-0.3},
{"x":-1.66,"m":-0.09},{"x":-1.63,"m":0.35},{"x":-1.6,"m":-0.25},{"x":-1.57,"m":0.15},{"x":-1.54,"m":-0.4},{"x":-1.51,"m":0.05},{"x":-1.48,"m":-0.55},{"x":-1.45,"m":-0.1},{"x":-1.42,"m":-0.5},{"x":-1.39,"m":-0.2},{"x":-1.36,"m":-0.75},{"x":-1.33,"m":-0.3},{"x":-1.3,"m":-0.8},{"x":-1.27,"m":-0.45},{"x":-1.24,"m":-0.95},{"x":-1.21,"m":-0.55},{"x":-1.18,"m":-1.05},{"x":-1.15,"m":-0.6},{"x":-1.12,"m":-0.95},{"x":-1.09,"m":-0.7},{"x":-1.06,"m":-1.1},{"x":-1.03,"m":-0.8},{"x":-1.0,"m":-1.0},{"x":-0.97,"m":-0.78},{"x":-0.94,"m":-1.02},{"x":-0.91,"m":-0.82},{"x":-0.88,"m":-1.0},{"x":-0.85,"m":-0.8},{"x":-0.82,"m":-0.98},{"x":-0.79,"m":-0.78},{"x":-0.76,"m":-0.95},{"x":-0.73,"m":-0.76},{"x":-0.7,"m":-0.92},{"x":-0.67,"m":-0.72},{"x":-0.64,"m":-0.9},{"x":-0.61,"m":-0.7},{"x":-0.58,"m":-0.86},{"x":-0.55,"m":-0.66},{"x":-0.52,"m":-0.8},
{"x":-0.49,"m":-0.62},{"x":-0.46,"m":-0.8},{"x":-0.43,"m":-0.55},{"x":-0.4,"m":-0.7},{"x":-0.37,"m":-0.45},{"x":-0.34,"m":-0.62},{"x":-0.31,"m":-0.38},{"x":-0.28,"m":-0.55},{"x":-0.25,"m":-0.28},{"x":-0.22,"m":-0.42},{"x":-0.19,"m":-0.18},{"x":-0.16,"m":-0.35},{"x":-0.13,"m":-0.1},{"x":-0.1,"m":-0.25},{"x":-0.07,"m":0.02},{"x":-0.04,"m":-0.15},{"x":-0.01,"m":0.1},{"x":0.02,"m":-0.06},{"x":0.05,"m":0.2},{"x":0.08,"m":0.03},{"x":0.11,"m":0.28},{"x":0.14,"m":0.12},{"x":0.17,"m":0.38},{"x":0.2,"m":0.2},{"x":0.23,"m":0.48},{"x":0.26,"m":0.3},{"x":0.29,"m":0.55},{"x":0.32,"m":0.4},{"x":0.35,"m":0.65},{"x":0.38,"m":0.48},{"x":0.41,"m":0.75},{"x":0.44,"m":0.58},{"x":0.47,"m":0.85},{"x":0.5,"m":0.66},{"x":0.53,"m":0.92},{"x":0.56,"m":0.75},{"x":0.59,"m":1.02},{"x":0.62,"m":0.82},{"x":0.65,"m":1.08},{"x":0.68,"m":0.88},{"x":0.71,"m":1.1},{"x":0.74,"m":0.85},{"x":0.77,"m":1.02},{"x":0.8,"m":0.78},{"x":0.83,"m":0.95},{"x":0.86,"m":0.68},{"x":0.89,"m":0.85},{"x":0.92,"m":0.55},{"x":0.95,"m":0.72},{"x":0.98,"m":0.42},{"x":1.01,"m":0.58},{"x":1.04,"m":0.3},{"x":1.07,"m":0.45},{"x":1.1,"m":0.18},{"x":1.13,"m":0.32},{"x":1.16,"m":0.05},{"x":1.19,"m":0.18},{"x":1.22,"m":-0.1},{"x":1.25,"m":0.02},{"x":1.28,"m":-0.25},{"x":1.31,"m":-0.12},{"x":1.34,"m":-0.4},{"x":1.37,"m":-0.28},{"x":1.4,"m":-0.52},{"x":1.43,"m":-0.4},{"x":1.46,"m":-0.65},{"x":1.49,"m":-0.5},{"x":1.52,"m":-0.75},{"x":1.55,"m":-0.6},{"x":1.58,"m":-0.82},{"x":1.61,"m":-0.7},{"x":1.64,"m":-0.9},{"x":1.67,"m":-0.78},{"x":1.7,"m":-0.95},{"x":1.73,"m":-0.85},{"x":1.76,"m":-1.0},{"x":1.8,"m":-0.9},{"x":1.84,"m":-1.05},{"x":1.87,"m":-1.04},
{"x":1.92,"m":-0.87},{"x":2.18,"m":-0.87},{"x":2.24,"m":-0.56},{"x":2.29,"m":-0.78},{"x":2.5,"m":-0.61},{"x":3.37,"m":-0.61},
{"x":-3.27,"hi":1.22},{"x":-3.17,"hi":1.57},{"x":-2.68,"hi":1.48},{"x":-2.5,"hi":1.04},{"x":-2.44,"hi":1.57},{"x":-2.29,"hi":1.39},{"x":-2.11,"hi":0.96},{"x":-1.95,"hi":1.57},{"x":-1.82,"hi":1.22},{"x":-1.78,"hi":1.91},
{"x":-1.75,"hi":1.2},{"x":-1.72,"hi":1.65},{"x":-1.69,"hi":0.9},{"x":-1.66,"hi":1.45},{"x":-1.63,"hi":0.7},{"x":-1.6,"hi":1.3},{"x":-1.57,"hi":0.95},{"x":-1.54,"hi":1.5},{"x":-1.51,"hi":0.8},{"x":-1.48,"hi":1.25},{"x":-1.45,"hi":0.6},{"x":-1.42,"hi":1.1},{"x":-1.39,"hi":0.45},{"x":-1.36,"hi":1.0},{"x":-1.33,"hi":0.3},{"x":-1.3,"hi":0.95},{"x":-1.27,"hi":0.4},{"x":-1.24,"hi":0.85},{"x":-1.21,"hi":0.2},{"x":-1.18,"hi":0.75},{"x":-1.15,"hi":0.1},{"x":-1.12,"hi":0.65},{"x":-1.09,"hi":0.0},{"x":-1.06,"hi":0.55},{"x":-1.03,"hi":-0.1},{"x":-1.0,"hi":0.45},{"x":-0.97,"hi":-0.2},{"x":-0.94,"hi":0.3},{"x":-0.91,"hi":-0.25},{"x":-0.88,"hi":0.2},{"x":-0.85,"hi":-0.35},{"x":-0.82,"hi":0.1},{"x":-0.79,"hi":-0.3},{"x":-0.76,"hi":0.05},{"x":-0.73,"hi":-0.4},{"x":-0.7,"hi":-0.05},{"x":-0.67,"hi":-0.35},{"x":-0.64,"hi":-0.1},{"x":-0.61,"hi":-0.4},{"x":-0.58,"hi":-0.15},{"x":-0.55,"hi":-0.35},{"x":-0.52,"hi":-0.1},{"x":-0.49,"hi":-0.3},{"x":-0.46,"hi":-0.05},{"x":-0.43,"hi":-0.25},{"x":-0.4,"hi":0.0},{"x":-0.37,"hi":-0.18},{"x":-0.34,"hi":0.05},{"x":-0.31,"hi":-0.1},{"x":-0.28,"hi":0.12},{"x":-0.25,"hi":-0.02},{"x":-0.22,"hi":0.2},{"x":-0.19,"hi":0.08},{"x":-0.16,"hi":0.3},{"x":-0.13,"hi":0.15},{"x":-0.1,"hi":0.38},{"x":-0.07,"hi":0.25},{"x":-0.04,"hi":0.48},{"x":-0.01,"hi":0.35},{"x":0.02,"hi":0.58},{"x":0.05,"hi":0.45},{"x":0.08,"hi":0.68},{"x":0.11,"hi":0.55},{"x":0.14,"hi":0.78},{"x":0.17,"hi":0.62},{"x":0.2,"hi":0.9},{"x":0.23,"hi":0.75},{"x":0.26,"hi":1.0},{"x":0.29,"hi":0.85},{"x":0.32,"hi":1.1},{"x":0.35,"hi":0.95},{"x":0.38,"hi":1.2},{"x":0.41,"hi":1.05},{"x":0.44,"hi":1.25},{"x":0.47,"hi":1.1},{"x":0.5,"hi":1.3},{"x":0.53,"hi":1.15},{"x":0.56,"hi":1.35},{"x":0.59,"hi":1.2},{"x":0.62,"hi":1.4},{"x":0.65,"hi":1.28},{"x":0.68,"hi":1.45},{"x":0.71,"hi":1.3},{"x":0.74,"hi":1.55},{"x":0.77,"hi":1.35},{"x":0.8,"hi":1.7},{"x":0.83,"hi":1.3},{"x":0.86,"hi":1.9},{"x":0.88,"hi":1.2},{"x":0.9,"hi":2.1},{"x":0.92,"hi":1.1},{"x":0.94,"hi":2.0},{"x":0.96,"hi":0.9},{"x":0.98,"hi":2.2},{"x":1.0,"hi":0.6},{"x":1.02,"hi":1.8},{"x":1.04,"hi":0.4},{"x":1.06,"hi":2.25},{"x":1.08,"hi":0.3},{"x":1.1,"hi":1.2},{"x":1.12,"hi":0.1},{"x":1.15,"hi":0.6},{"x":1.18,"hi":-0.1},{"x":1.21,"hi":0.4},{"x":1.24,"hi":-0.3},{"x":1.27,"hi":0.3},{"x":1.3,"hi":-0.45},{"x":1.33,"hi":0.1},{"x":1.36,"hi":-0.6},{"x":1.39,"hi":0.0},{"x":1.42,"hi":-0.5},{"x":1.45,"hi":-0.05},{"x":1.48,"hi":-1.0},{"x":1.51,"hi":-0.1},{"x":1.54,"hi":-0.4},{"x":1.57,"hi":-0.15},{"x":1.6,"hi":-0.55},{"x":1.63,"hi":-0.2},{"x":1.66,"hi":-0.35},{"x":1.7,"hi":-0.1},{"x":1.73,"hi":-0.25},{"x":1.77,"hi":-0.17},
{"x":1.98,"hi":0.0},{"x":2.18,"hi":0.26},{"x":2.5,"hi":1.25},{"x":3.37,"hi":1.18},
{"x":-3.27,"lo":-1.3},{"x":-3.17,"lo":-1.01},{"x":-2.68,"lo":-1.18},{"x":-2.5,"lo":-0.96},{"x":-2.29,"lo":-1.13},{"x":-2.11,"lo":-1.48},{"x":-1.95,"lo":-0.87},
{"x":-1.79,"lo":-1.91},{"x":-1.76,"lo":-1.0},{"x":-1.73,"lo":-1.6},{"x":-1.7,"lo":-0.9},{"x":-1.67,"lo":-2.0},{"x":-1.64,"lo":-1.3},{"x":-1.61,"lo":-2.4},{"x":-1.58,"lo":-1.1},{"x":-1.55,"lo":-2.7},{"x":-1.52,"lo":-1.5},{"x":-1.49,"lo":-2.8},{"x":-1.46,"lo":-1.4},{"x":-1.43,"lo":-2.6},{"x":-1.4,"lo":-1.6},{"x":-1.37,"lo":-2.75},{"x":-1.34,"lo":-1.7},{"x":-1.31,"lo":-2.5},{"x":-1.28,"lo":-1.8},{"x":-1.25,"lo":-2.7},{"x":-1.22,"lo":-1.9},{"x":-1.19,"lo":-2.4},{"x":-1.16,"lo":-2.0},{"x":-1.13,"lo":-2.5},{"x":-1.1,"lo":-2.1},{"x":-1.07,"lo":-2.35},{"x":-1.04,"lo":-2.05},{"x":-1.01,"lo":-2.25},{"x":-0.98,"lo":-1.95},{"x":-0.95,"lo":-2.15},{"x":-0.92,"lo":-1.85},{"x":-0.89,"lo":-2.05},{"x":-0.86,"lo":-1.8},{"x":-0.83,"lo":-1.95},{"x":-0.8,"lo":-1.7},{"x":-0.77,"lo":-1.85},{"x":-0.74,"lo":-1.62},{"x":-0.71,"lo":-1.76},{"x":-0.68,"lo":-1.52},{"x":-0.65,"lo":-1.66},{"x":-0.62,"lo":-1.44},{"x":-0.59,"lo":-1.56},{"x":-0.56,"lo":-1.36},{"x":-0.53,"lo":-1.48},{"x":-0.5,"lo":-1.28},{"x":-0.47,"lo":-1.4},{"x":-0.44,"lo":-1.2},{"x":-0.41,"lo":-1.32},{"x":-0.38,"lo":-1.12},{"x":-0.35,"lo":-1.22},{"x":-0.32,"lo":-1.04},{"x":-0.29,"lo":-1.14},{"x":-0.26,"lo":-0.95},{"x":-0.23,"lo":-1.05},{"x":-0.2,"lo":-0.86},{"x":-0.17,"lo":-0.95},{"x":-0.14,"lo":-0.76},{"x":-0.11,"lo":-0.86},{"x":-0.08,"lo":-0.66},{"x":-0.05,"lo":-0.76},{"x":-0.02,"lo":-0.56},{"x":0.01,"lo":-0.64},{"x":0.04,"lo":-0.45},{"x":0.07,"lo":-0.52},{"x":0.1,"lo":-0.34},{"x":0.13,"lo":-0.4},{"x":0.16,"lo":-0.22},{"x":0.19,"lo":-0.28},{"x":0.22,"lo":-0.1},{"x":0.25,"lo":-0.16},{"x":0.28,"lo":0.02},{"x":0.31,"lo":-0.05},{"x":0.34,"lo":0.12},{"x":0.37,"lo":0.06},{"x":0.4,"lo":0.22},{"x":0.43,"lo":0.15},{"x":0.46,"lo":0.32},{"x":0.49,"lo":0.25},{"x":0.52,"lo":0.4},{"x":0.55,"lo":0.32},{"x":0.58,"lo":0.45},{"x":0.61,"lo":0.38},{"x":0.64,"lo":0.5},{"x":0.67,"lo":0.4},{"x":0.7,"lo":0.48},{"x":0.73,"lo":0.3},{"x":0.76,"lo":0.4},{"x":0.79,"lo":0.15},{"x":0.82,"lo":0.25},{"x":0.85,"lo":-0.05},{"x":0.88,"lo":0.05},{"x":0.91,"lo":-0.3},{"x":0.94,"lo":-0.1},{"x":0.97,"lo":-1.2},{"x":1.0,"lo":-0.3},{"x":1.03,"lo":-0.9},{"x":1.06,"lo":-0.45},{"x":1.09,"lo":-1.3},{"x":1.12,"lo":-0.6},{"x":1.15,"lo":-1.0},{"x":1.18,"lo":-0.75},{"x":1.21,"lo":-1.5},{"x":1.24,"lo":-0.85},{"x":1.27,"lo":-1.1},{"x":1.3,"lo":-0.95},{"x":1.33,"lo":-1.4},{"x":1.36,"lo":-1.0},{"x":1.39,"lo":-1.2},{"x":1.42,"lo":-1.05},{"x":1.45,"lo":-1.55},{"x":1.48,"lo":-1.1},{"x":1.52,"lo":-1.25},{"x":1.56,"lo":-1.15},{"x":1.6,"lo":-1.3},{"x":1.65,"lo":-1.2},{"x":1.7,"lo":-1.32},{"x":1.77,"lo":-1.39},
{"x":1.98,"lo":-1.65},{"x":2.24,"lo":-2.0},{"x":2.29,"lo":-2.26},{"x":2.5,"lo":-2.52},{"x":3.37,"lo":-3.74}],
"G20":[{"x":-3.27,"m":0.05},{"x":-2.68,"m":0.05},{"x":-2.5,"m":-0.31},{"x":-2.46,"m":0.26},{"x":-2.31,"m":0.47},{"x":-2.11,"m":-0.26},{"x":-1.95,"m":0.61},{"x":-1.93,"m":-1.01},
{"x":-3.27,"hi":1.36},{"x":-2.68,"hi":1.43},{"x":-2.5,"hi":0.87},{"x":-2.44,"hi":1.57},{"x":-2.31,"hi":1.83},{"x":-2.11,"hi":0.96},{"x":-1.95,"hi":1.65},
{"x":-3.27,"lo":-1.25},{"x":-2.68,"lo":-1.25},{"x":-2.5,"lo":-1.48},{"x":-2.44,"lo":-1.04},{"x":-2.29,"lo":-1.18},{"x":-2.11,"lo":-1.57},{"x":-1.98,"lo":-1.13},{"x":-1.95,"lo":-2.35},
{"x":-1.9,"m":0.2,"hi":1.2,"lo":-1.3},{"x":-1.87,"m":-0.35,"hi":1.8,"lo":-1.9},{"x":-1.84,"m":0.4,"hi":1.0,"lo":-1.1},{"x":-1.81,"m":-0.1,"hi":1.6,"lo":-1.7},{"x":-1.78,"m":0.55,"hi":1.3,"lo":-1.4},{"x":-1.75,"m":-0.45,"hi":1.9,"lo":-2.2},{"x":-1.72,"m":0.25,"hi":1.1,"lo":-1.2},{"x":-1.69,"m":-0.3,"hi":1.7,"lo":-1.6},{"x":-1.66,"m":0.5,"hi":1.4,"lo":-1.0},{"x":-1.63,"m":-0.55,"hi":2.0,"lo":-1.8},
{"x":-1.6,"m":0.35,"hi":1.2,"lo":-1.5},{"x":-1.57,"m":-0.2,"hi":1.6,"lo":-2.0},{"x":-1.54,"m":0.6,"hi":1.0,"lo":-1.1},{"x":-1.51,"m":-0.4,"hi":1.8,"lo":-1.7},{"x":-1.48,"m":0.15,"hi":1.5,"lo":-1.3},{"x":-1.45,"m":-0.5,"hi":2.1,"lo":-1.9},{"x":-1.42,"m":0.45,"hi":1.2,"lo":-1.2},{"x":-1.39,"m":-0.25,"hi":1.7,"lo":-1.6},{"x":-1.36,"m":0.55,"hi":1.3,"lo":-1.4},{"x":-1.33,"m":-0.35,"hi":1.9,"lo":-2.1},
{"x":-1.3,"m":0.3,"hi":1.0,"lo":-1.0},{"x":-1.27,"m":-0.6,"hi":1.6,"lo":-1.8},{"x":-1.24,"m":0.4,"hi":1.4,"lo":-1.3},{"x":-1.21,"m":-0.15,"hi":2.0,"lo":-1.7},{"x":-1.18,"m":0.5,"hi":1.1,"lo":-1.5},{"x":-1.15,"m":-0.45,"hi":1.8,"lo":-2.0},{"x":-1.12,"m":0.2,"hi":1.3,"lo":-1.2},{"x":-1.09,"m":-0.55,"hi":1.7,"lo":-1.6},{"x":-1.06,"m":0.65,"hi":1.5,"lo":-1.1},{"x":-1.03,"m":-0.3,"hi":2.2,"lo":-1.9},
{"x":-1.0,"m":0.35,"hi":1.2,"lo":-1.4},{"x":-0.97,"m":-0.5,"hi":1.6,"lo":-1.8},{"x":-0.94,"m":0.55,"hi":1.0,"lo":-1.0},{"x":-0.91,"m":-0.2,"hi":1.9,"lo":-2.0},{"x":-0.88,"m":0.4,"hi":1.4,"lo":-1.3},{"x":-0.85,"m":-0.45,"hi":1.7,"lo":-1.7},{"x":-0.82,"m":0.25,"hi":1.1,"lo":-1.2},{"x":-0.79,"m":-0.6,"hi":2.0,"lo":-1.6},{"x":-0.76,"m":0.5,"hi":1.3,"lo":-1.5},{"x":-0.73,"m":-0.35,"hi":1.8,"lo":-2.1},
{"x":-0.7,"m":0.15,"hi":1.5,"lo":-1.1},{"x":-0.67,"m":-0.5,"hi":1.6,"lo":-1.8},{"x":-0.64,"m":0.6,"hi":1.0,"lo":-1.4},{"x":-0.61,"m":-0.25,"hi":1.9,"lo":-1.9},{"x":-0.58,"m":0.45,"hi":1.2,"lo":-1.0},{"x":-0.55,"m":-0.4,"hi":1.7,"lo":-1.7},{"x":-0.52,"m":0.3,"hi":1.4,"lo":-1.3},{"x":-0.49,"m":-0.55,"hi":2.1,"lo":-2.0},{"x":-0.46,"m":0.5,"hi":1.1,"lo":-1.2},{"x":-0.43,"m":-0.2,"hi":1.8,"lo":-1.6},
{"x":-0.4,"m":0.4,"hi":1.3,"lo":-1.5},{"x":-0.37,"m":-0.5,"hi":1.6,"lo":-1.8},{"x":-0.34,"m":0.25,"hi":1.5,"lo":-1.1},{"x":-0.31,"m":-0.35,"hi":2.0,"lo":-2.1},{"x":-0.28,"m":0.55,"hi":1.2,"lo":-1.4},{"x":-0.25,"m":-0.45,"hi":1.7,"lo":-1.7},{"x":-0.22,"m":0.2,"hi":1.0,"lo":-1.0},{"x":-0.19,"m":-0.3,"hi":1.9,"lo":-1.9},{"x":-0.16,"m":0.5,"hi":1.4,"lo":-1.3},{"x":-0.13,"m":-0.55,"hi":1.6,"lo":-1.6},
{"x":-0.1,"m":0.35,"hi":1.3,"lo":-1.2},{"x":-0.07,"m":-0.15,"hi":2.0,"lo":-2.0},{"x":-0.04,"m":0.45,"hi":1.1,"lo":-1.5},{"x":-0.01,"m":-0.4,"hi":1.8,"lo":-1.8},{"x":0.02,"m":0.6,"hi":1.5,"lo":-1.1},{"x":0.05,"m":-0.3,"hi":1.7,"lo":-1.7},{"x":0.08,"m":0.25,"hi":1.2,"lo":-1.4},{"x":0.11,"m":-0.5,"hi":1.9,"lo":-1.9},{"x":0.14,"m":0.4,"hi":1.0,"lo":-1.0},{"x":0.17,"m":-0.2,"hi":1.6,"lo":-1.6},
{"x":0.2,"m":0.55,"hi":1.4,"lo":-1.3},{"x":0.23,"m":-0.45,"hi":2.1,"lo":-2.2},{"x":0.26,"m":0.3,"hi":1.3,"lo":-1.2},{"x":0.29,"m":-0.35,"hi":1.8,"lo":-1.8},{"x":0.32,"m":0.5,"hi":1.1,"lo":-1.5},{"x":0.35,"m":-0.6,"hi":1.7,"lo":-1.7},{"x":0.38,"m":0.2,"hi":1.5,"lo":-1.1},{"x":0.41,"m":-0.4,"hi":2.0,"lo":-2.0},{"x":0.44,"m":0.45,"hi":1.2,"lo":-1.4},{"x":0.47,"m":-0.25,"hi":1.6,"lo":-1.6},
{"x":0.5,"m":0.55,"hi":1.0,"lo":-1.0},{"x":0.53,"m":-0.5,"hi":1.9,"lo":-1.9},{"x":0.56,"m":0.35,"hi":1.4,"lo":-1.3},{"x":0.59,"m":-0.15,"hi":1.8,"lo":-1.8},{"x":0.62,"m":0.6,"hi":1.3,"lo":-1.2},{"x":0.65,"m":-0.4,"hi":2.2,"lo":-2.1},{"x":0.68,"m":0.25,"hi":1.1,"lo":-1.5},{"x":0.71,"m":-0.55,"hi":1.7,"lo":-1.7},{"x":0.74,"m":0.45,"hi":1.5,"lo":-1.1},{"x":0.77,"m":-0.3,"hi":1.9,"lo":-1.6},
{"x":0.8,"m":0.5,"hi":1.2,"lo":-1.4},{"x":0.83,"m":-0.2,"hi":1.6,"lo":-2.0},{"x":0.86,"m":0.35,"hi":1.4,"lo":-1.0},{"x":0.89,"m":-0.45,"hi":2.0,"lo":-1.8},{"x":0.92,"m":0.55,"hi":1.0,"lo":-1.3},{"x":0.95,"m":-0.35,"hi":1.8,"lo":-1.9},{"x":0.98,"m":0.2,"hi":1.3,"lo":-1.2},{"x":1.01,"m":-0.5,"hi":1.7,"lo":-1.7},{"x":1.04,"m":0.4,"hi":1.5,"lo":-1.5},{"x":1.07,"m":-0.25,"hi":2.1,"lo":-2.1},
{"x":1.1,"m":0.6,"hi":1.2,"lo":-1.1},{"x":1.13,"m":-0.45,"hi":1.6,"lo":-1.6},{"x":1.16,"m":0.3,"hi":1.1,"lo":-1.4},{"x":1.19,"m":-0.2,"hi":1.9,"lo":-1.8},{"x":1.22,"m":0.5,"hi":1.4,"lo":-1.0},{"x":1.25,"m":-0.55,"hi":1.8,"lo":-2.0},{"x":1.28,"m":0.35,"hi":1.3,"lo":-1.3},{"x":1.31,"m":-0.3,"hi":2.0,"lo":-1.7},{"x":1.34,"m":0.45,"hi":1.0,"lo":-1.2},{"x":1.37,"m":-0.4,"hi":1.7,"lo":-1.9},
{"x":1.4,"m":0.25,"hi":1.5,"lo":-1.5},{"x":1.43,"m":-0.5,"hi":1.9,"lo":-1.6},{"x":1.46,"m":0.55,"hi":1.2,"lo":-1.1},{"x":1.49,"m":-0.15,"hi":1.6,"lo":-2.0},{"x":1.52,"m":0.4,"hi":1.4,"lo":-1.4},{"x":1.55,"m":-0.35,"hi":2.1,"lo":-1.8},{"x":1.58,"m":0.3,"hi":1.1,"lo":-1.0},{"x":1.61,"m":-0.45,"hi":1.8,"lo":-1.7},{"x":1.64,"m":0.5,"hi":1.3,"lo":-1.3},{"x":1.67,"m":-0.25,"hi":1.7,"lo":-1.9},
{"x":1.7,"m":0.35,"hi":1.0,"lo":-1.2},{"x":1.73,"m":-0.4,"hi":1.9,"lo":-1.6},{"x":1.76,"m":0.2,"hi":1.5,"lo":-1.5},{"x":1.79,"m":-0.3,"hi":2.2,"lo":-2.0},{"x":1.82,"m":0.45,"hi":1.2,"lo":-1.1},
{"x":1.87,"m":0.78,"hi":2.17,"lo":-1.57},{"x":1.98,"m":0.61,"hi":1.95,"lo":-1.04},{"x":2.29,"m":-0.49,"hi":0.78,"lo":-1.74},{"x":2.5,"m":0.05,"hi":1.36,"lo":-1.22},{"x":3.37,"m":-0.05,"hi":1.18,"lo":-1.36}]
},
"config":{
"font":"Liberation Sans",
"view":{"stroke":"#7F7F7F","strokeWidth":1.5},
"axis":{"labelFontSize":21,"labelColor":"#000000","titleFontSize":27,"titleFontWeight":"normal","titleColor":"#000000","tickColor":"#333333","tickWidth":1.2,"domain":false}
}
}
